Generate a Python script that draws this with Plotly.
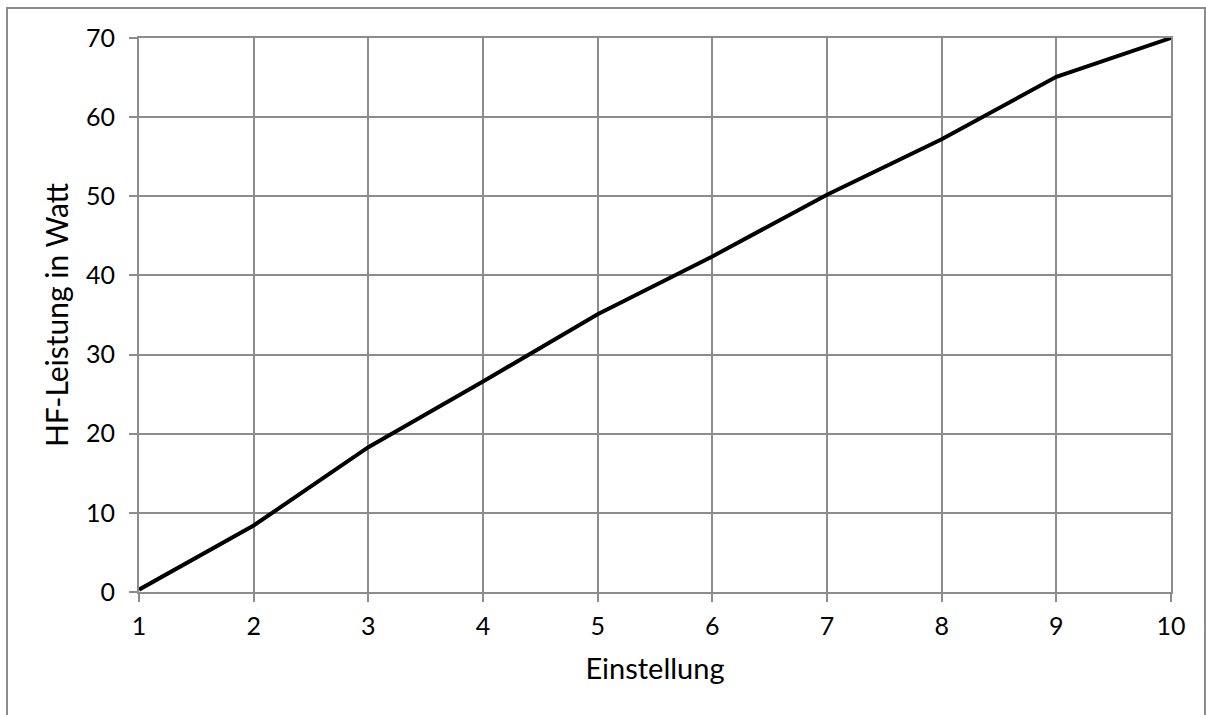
import plotly.graph_objects as go

einstellung = [1, 2, 3, 4, 5, 6, 7, 8, 9, 10]
leistung_watt = [0.3, 8.4, 18.3, 26.6, 35.1, 42.4, 50.2, 57.2, 65.1, 70.0]

x_ticks = [1, 2, 3, 4, 5, 6, 7, 8, 9, 10]
y_ticks = [0, 10, 20, 30, 40, 50, 60, 70]

x_title = "Einstellung"
y_title = "HF-Leistung in Watt"

W, H = 1206, 715
L, R, T, B = 139, 35, 38, 123

grid = "#8c8c8c"
font_family = "Lato, 'Open Sans', sans-serif"

fig = go.Figure()
fig.add_trace(go.Scatter(
    x=einstellung, y=leistung_watt, mode="lines",
    line=dict(color="black", width=4), showlegend=False,
    hoverinfo="x+y",
))

fig.update_layout(
    width=W, height=H,
    margin=dict(l=L, r=R, t=T, b=B, autoexpand=False),
    paper_bgcolor="white", plot_bgcolor="white",
    font=dict(family=font_family, size=25, color="black"),
)

fig.update_xaxes(
    range=[1, 10], tickvals=x_ticks, ticktext=[str(v) for v in x_ticks],
    showgrid=True, gridcolor=grid, gridwidth=2,
    showline=True, linecolor=grid, linewidth=2, mirror=True,
    ticks="outside", ticklen=8, tickwidth=2, tickcolor=grid,
    ticklabelstandoff=3,
    zeroline=False,
    title=dict(text=x_title, font=dict(size=29), standoff=20),
)
fig.update_yaxes(
    range=[0, 70], tickvals=y_ticks, ticktext=[str(v) for v in y_ticks],
    showgrid=True, gridcolor=grid, gridwidth=2,
    showline=True, linecolor=grid, linewidth=2, mirror=True,
    ticks="outside", ticklen=8, tickwidth=2, tickcolor=grid,
    ticklabelstandoff=9,
    zeroline=False,
    title=dict(text=y_title, font=dict(size=30), standoff=8),
)

# outer chart frame
plot_w = W - L - R
plot_h = H - T - B
fig.add_shape(
    type="rect", xref="paper", yref="paper",
    x0=(7 - L) / plot_w, x1=(1205 - L) / plot_w,
    y0=(H - B - 725) / plot_h, y1=(H - B - 8) / plot_h,
    line=dict(color="#8c8c8c", width=2), fillcolor="rgba(0,0,0,0)",
    layer="below",
)

fig.write_html(
    "out.html",
    config={"displayModeBar": False},
    post_script="document.body.style.margin='0';document.body.style.overflow='hidden';",
)
